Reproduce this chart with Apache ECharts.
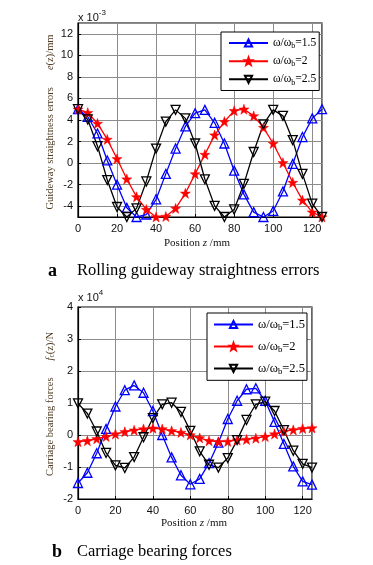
<!DOCTYPE html>
<html>
<head>
<meta charset="utf-8">
<script src="https://cdn.jsdelivr.net/npm/echarts@6/dist/echarts.min.js"></script>
<style>
html,body{margin:0;padding:0;background:#fff;}
#c{width:373px;height:565px;}
</style>
</head>
<body>
<div id="c"></div>
<script>
// ---- data ----
const positions = [0,5,10,15,20,25,30,35,40,45,50,55,60,65,70,75,80,85,90,95,100,105,110,115,120,125];
const seriesNames = ['ω/ωb=1.5', 'ω/ωb=2', 'ω/ωb=2.5'];
// (a) guideway straightness errors, x 10^-3 mm
const errR15 = [5.0, 4.3, 2.75, 0.25, -2.0, -4.15, -5.0, -4.77, -3.36, -1.0, 1.35, 3.4, 4.63, 4.94, 3.74, 1.82, -0.7, -2.9, -4.55, -5.0, -4.44, -2.63, -0.08, 2.42, 4.15, 5.0];
const errR2  = [5.0, 4.68, 3.68, 2.2, 0.4, -1.48, -3.13, -4.3, -5.0, -4.95, -4.2, -2.8, -1.0, 0.8, 2.6, 3.85, 4.86, 5.0, 4.38, 3.3, 1.82, 0.03, -1.8, -3.44, -4.55, -5.0];
const errR25 = [5.0, 4.05, 1.57, -1.57, -4.07, -5.0, -4.2, -1.7, 1.35, 3.85, 4.94, 4.15, 1.82, -1.5, -3.97, -5.0, -4.3, -1.93, 1.03, 3.6, 4.94, 4.38, 2.13, -1.0, -3.76, -5.0];
// (b) carriage bearing forces, x 10^4 N
const forceR15 = [-1.50, -1.18, -0.57, 0.19, 0.89, 1.40, 1.55, 1.32, 0.75, 0.0, -0.70, -1.26, -1.54, -1.37, -0.88, -0.24, 0.50, 1.07, 1.43, 1.46, 1.07, 0.41, -0.28, -0.98, -1.45, -1.55];
const forceR2  = [-0.21, -0.18, -0.12, -0.05, 0.03, 0.10, 0.15, 0.19, 0.21, 0.19, 0.13, 0.08, 0.0, -0.09, -0.18, -0.21, -0.20, -0.16, -0.14, -0.10, -0.05, 0.03, 0.11, 0.16, 0.20, 0.22];
const forceR25 = [0.99, 0.67, 0.11, -0.56, -0.95, -1.03, -0.69, -0.07, 0.53, 0.96, 1.01, 0.72, 0.13, -0.51, -0.93, -1.02, -0.72, -0.16, 0.47, 0.96, 1.04, 0.75, 0.15, -0.49, -0.90, -1.02];

// ---- styles ----
const STAR = 'path://M0,-10 L2.35,-3.24 L9.51,-3.09 L3.8,1.24 L5.88,8.09 L0,4 L-5.88,8.09 L-3.8,1.24 L-9.51,-3.09 L-2.35,-3.24 Z';
const SERIF = '"Liberation Serif","DejaVu Serif",serif';
const SANS = '"Liberation Sans",Arial,sans-serif';
const styles = [
  {color:'#0000ff', symbol:'triangle', rotate:0, fill:'rgba(0,0,0,0)', size:9},
  {color:'#ff0000', symbol:STAR, rotate:0, fill:'#ff0000', size:10},
  {color:'#000000', symbol:'triangle', rotate:180, fill:'rgba(0,0,0,0)', size:9}
];
function pairs(vals){ return positions.map((x,i)=>[x, vals[i]]); }
function mkSeries(idx, vals, axis){
  const s = styles[idx];
  return {
    name: seriesNames[idx], type:'line', xAxisIndex:axis, yAxisIndex:axis,
    data: pairs(vals), symbol:s.symbol, symbolSize:s.size, symbolRotate:s.rotate,
    showAllSymbol:true, clip:false, animation:false,
    lineStyle:{color:s.color, width:1.3},
    itemStyle:{color:s.fill, borderColor:s.color, borderWidth: idx===1?0.5:1.3},
    emphasis:{disabled:true}
  };
}
const legendRich = function(size){
  return {
    n:{fontFamily:SERIF, fontSize:size, color:'#000'},
    s:{fontFamily:SERIF, fontSize:size*0.7, color:'#000', padding:[size*0.55,0,0,0]}
  };
};
function legendFmt(name){
  const m = name.match(/^ω\/ωb(.*)$/);
  return '{n|ω/ω}{s|b}{n|' + m[1] + '}';
}
function xAxisCfg(gi){
  return {
    gridIndex:gi, type:'value', min:0, max:125, interval:20,
    axisLine:{show:true, onZero:false, lineStyle:{color:'#000', width:1.2}},
    axisTick:{show:true, inside:true, length:3, lineStyle:{color:'#000'}},
    axisLabel:{color:'#111', fontFamily:SANS, fontSize:11, margin:6, showMaxLabel:false},
    splitLine:{show:true, lineStyle:{color:'#8c8c8c', width:1}}
  };
}
function yAxisCfg(gi, min, max){
  return {
    gridIndex:gi, type:'value', min:min, max:max, splitNumber: max-min > 10 ? 9 : 6,
    minInterval: max-min > 10 ? 2 : 1, maxInterval: max-min > 10 ? 2 : 1,
    axisLine:{show:true, onZero:false, lineStyle:{color:'#000', width:1.2}},
    axisTick:{show:true, inside:true, length:3, lineStyle:{color:'#000'}},
    axisLabel:{color:'#111', fontFamily:SANS, fontSize:11, margin:5, showMinLabel: gi===1, showMaxLabel: gi===1},
    splitLine:{show:true, lineStyle:{color:'#8c8c8c', width:1}}
  };
}

const chart = echarts.init(document.getElementById('c'), null, {renderer:'canvas'});
const option = {
  backgroundColor:'#fff',
  animation:false,
  grid:[
    {left:78, top:23, width:244, height:194, show:true, borderColor:'#000', borderWidth:1.2, backgroundColor:'#fff'},
    {left:78, top:307, width:234, height:192, show:true, borderColor:'#000', borderWidth:1.2, backgroundColor:'#fff'}
  ],
  xAxis:[xAxisCfg(0), xAxisCfg(1)],
  yAxis:[yAxisCfg(0,-5,13), yAxisCfg(1,-2,4)],
  legend:[
    {
      data:seriesNames, orient:'vertical', left:221, top:32,
      padding:[5,3,4,7], itemGap:5, itemWidth:39, itemHeight:9,
      backgroundColor:'#fff', borderColor:'#000', borderWidth:1, borderRadius:0,
      formatter:legendFmt, textStyle:{rich:legendRich(11.5)}, selectedMode:false
    },
    {
      data:seriesNames, orient:'vertical', left:207, top:313,
      padding:[5,2,4,6], itemGap:7.5, itemWidth:39, itemHeight:9,
      backgroundColor:'#fff', borderColor:'#000', borderWidth:1, borderRadius:0,
      formatter:legendFmt, textStyle:{rich:legendRich(12.5)}, selectedMode:false
    }
  ],
  series:[
    mkSeries(0, errR15, 0), mkSeries(1, errR2, 0), mkSeries(2, errR25, 0),
    mkSeries(0, forceR15, 1), mkSeries(1, forceR2, 1), mkSeries(2, forceR25, 1)
  ],
  graphic:[
    // exponent labels
    {type:'text', left:78, top:9, style:{text:'{n|x 10}{s|-3}', rich:{n:{fontFamily:SANS,fontSize:11,fill:'#111',padding:[4,0,0,0]},s:{fontFamily:SANS,fontSize:8,fill:'#111',padding:[0,0,6,0]}}}},
    {type:'text', left:78, top:289, style:{text:'{n|x 10}{s|4}', rich:{n:{fontFamily:SANS,fontSize:11,fill:'#111',padding:[4,0,0,0]},s:{fontFamily:SANS,fontSize:8,fill:'#111',padding:[0,0,6,0]}}}},
    // y-axis names
    {type:'text', x:50, y:122, rotation:Math.PI/2,
     style:{text:'{n|Guideway straightness errors}{g|}{i|e}{n|(z)/mm}', align:'center', verticalAlign:'middle',
       rich:{n:{fontFamily:SERIF,fontSize:10.5,fill:'#4d3b22'}, i:{fontFamily:SERIF,fontSize:10.5,fontStyle:'italic',fill:'#4d3b22'}, g:{width:17}}}},
    {type:'text', x:50, y:404, rotation:Math.PI/2,
     style:{text:'{n|Carriage bearing forces}{g|}{i|f}{s|c}{n|(z)/N}', align:'center', verticalAlign:'middle',
       rich:{n:{fontFamily:SERIF,fontSize:10.5,fill:'#4d3b22'}, i:{fontFamily:SERIF,fontSize:10.5,fontStyle:'italic',fill:'#4d3b22'}, s:{fontFamily:SERIF,fontSize:7.5,fill:'#4d3b22',padding:[5,0,0,0]}, g:{width:17}}}},
    // x-axis names
    {type:'text', x:197, y:243,
     style:{text:'{n|Position }{i|z}{n| /mm}', align:'center', verticalAlign:'middle',
       rich:{n:{fontFamily:SERIF,fontSize:11,fill:'#111'}, i:{fontFamily:SERIF,fontSize:11,fontStyle:'italic',fill:'#111'}}}},
    {type:'text', x:194, y:523,
     style:{text:'{n|Position }{i|z}{n| /mm}', align:'center', verticalAlign:'middle',
       rich:{n:{fontFamily:SERIF,fontSize:11,fill:'#111'}, i:{fontFamily:SERIF,fontSize:11,fontStyle:'italic',fill:'#111'}}}},
    // captions
    {type:'text', x:48, y:271, style:{text:'a', fontFamily:SERIF, fontSize:18, fontWeight:'bold', fill:'#000', verticalAlign:'middle'}},
    {type:'text', x:77, y:271, style:{text:'Rolling guideway straightness errors', fontFamily:SERIF, fontSize:16.5, fill:'#000', verticalAlign:'middle'}},
    {type:'text', x:52, y:552, style:{text:'b', fontFamily:SERIF, fontSize:18, fontWeight:'bold', fill:'#000', verticalAlign:'middle'}},
    {type:'text', x:77, y:552, style:{text:'Carriage bearing forces', fontFamily:SERIF, fontSize:16.5, fill:'#000', verticalAlign:'middle'}}
  ]
};
chart.setOption(option);
</script>
</body>
</html>
